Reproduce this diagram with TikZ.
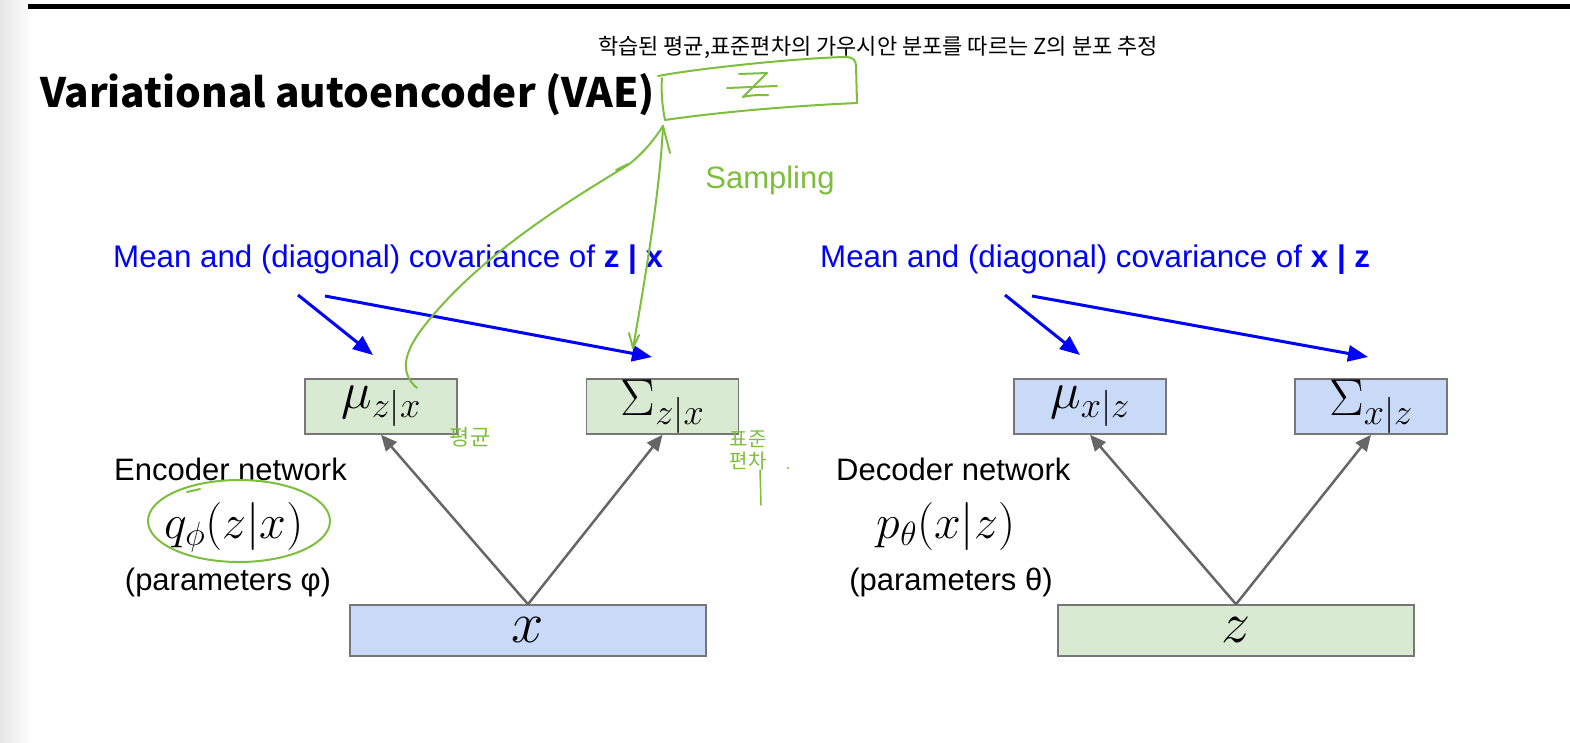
\RequirePackage{fix-cm}
\documentclass[tikz,border=0pt]{standalone}
\usepackage{fontspec}
\newfontfamily\arial{Liberation Sans}
\newfontfamily\kr{Noto Sans CJK KR}
\usetikzlibrary{arrows.meta,shapes.geometric}
\definecolor{boxgreen}{HTML}{D9EAD3}
\definecolor{boxblue}{HTML}{C9DAF8}
\definecolor{boxline}{HTML}{777777}
\definecolor{arrgray}{HTML}{666666}
\definecolor{vblue}{HTML}{0000FF}
\definecolor{hand}{RGB}{125,190,60}
\tikzset{
  box/.style={draw=boxline, line width=1.5pt, minimum width=152pt, minimum height=55pt, inner sep=0pt, font=\fontsize{52}{56}\selectfont},
  gbox/.style={box, fill=boxgreen},
  bbox/.style={box, fill=boxblue},
  bigbox/.style={minimum width=356pt, minimum height=51pt, font=\fontsize{58}{60}\selectfont},
  grayarr/.style={draw=arrgray, line width=2.5pt, -{Triangle[length=16pt,width=14pt]}},
  bluearr/.style={draw=vblue, line width=3pt, -{Triangle[length=20pt,width=16pt]}},
  handline/.style={draw=hand, line width=2pt, line cap=round, line join=round},
  bluetxt/.style={text=vblue, font=\arial\fontsize{31.3}{36}\selectfont, inner sep=0pt},
  blk/.style={text=black, font=\arial\fontsize{31}{36}\selectfont, inner sep=0pt},
  mathtxt/.style={font=\fontsize{48}{52}\selectfont, inner sep=0pt},
}
\begin{document}
\begin{tikzpicture}[x=1pt,y=-1pt]
\useasboundingbox (0,0) rectangle (1570,742);
\shade[left color=black!10, right color=white] (0,0) rectangle (32,742);
\draw[line width=5pt] (28,6) -- (1570,6);

% title and caption
\node[anchor=base west, font=\kr\bfseries\fontsize{40.5}{48}\selectfont, inner sep=0pt] (title) at (40,107) {Variational autoencoder (VAE)};
\node[font=\kr\fontsize{22}{26}\selectfont, inner sep=0pt] (cap) at (878,47) {학습된 평균,표준편차의 가우시안 분포를 따르는 Z의 분포 추정};

% boxes
\node[gbox] (mu1) at (381,406.5) {$\mu_{z|x}$};
\node[gbox] (sig1) at (662.5,406.5) {$\Sigma_{z|x}$};
\node[bbox] (mu2) at (1090,406.5) {$\mu_{x|z}$};
\node[bbox] (sig2) at (1371,406.5) {$\Sigma_{x|z}$};
\node[bbox, bigbox] (xin) at (528,630.5) {$x$};
\node[gbox, bigbox] (zin) at (1236,630.5) {$z$};

\draw[grayarr] (xin.north) -- (mu1.south);
\draw[grayarr] (xin.north) -- (sig1.south);
\draw[grayarr] (zin.north) -- (mu2.south);
\draw[grayarr] (zin.north) -- (sig2.south);

% blue labels
\node[bluetxt, anchor=base west] (lab1) at (113,267) {Mean and (diagonal) covariance of \textbf{z | x}};
\node[bluetxt, anchor=base west] (lab2) at (820,267) {Mean and (diagonal) covariance of \textbf{x | z}};
\coordinate (a1s) at (298,295); \coordinate (a1e) at (373,355);
\coordinate (a2s) at (325,296); \coordinate (a2e) at (652,357);
\coordinate (b1s) at (1005,295); \coordinate (b1e) at (1080,355);
\coordinate (b2s) at (1032,296); \coordinate (b2e) at (1368,357);
\draw[bluearr] (a1s) -- (a1e);
\draw[bluearr] (a2s) -- (a2e);
\draw[bluearr] (b1s) -- (b1e);
\draw[bluearr] (b2s) -- (b2e);

% network labels
\node[blk, anchor=base west] (enc) at (114,480) {Encoder network};
\node[mathtxt, anchor=base] (q) at (234,538) {$q_\phi(z|x)$};
\node[blk, anchor=base] (penc) at (228,590) {(parameters φ)};
\node[blk, anchor=base west] (dec) at (836,480) {Decoder network};
\node[mathtxt, anchor=base] (p) at (946,538) {$p_\theta(x|z)$};
\node[blk, anchor=base] (pdec) at (951,590) {(parameters θ)};

% handwritten annotations
\draw[handline] (658,76) .. controls (700,68) and (800,58) .. (845,57) .. controls (853,57) and (856,60) .. (856,66) -- (857,103) .. controls (790,106) and (720,112) .. (665,120) .. controls (662,105) and (661,90) .. (662,78);
\draw[handline] (739,74) -- (767,73) -- (743,97) .. controls (750,95) and (760,95) .. (768,95);
\draw[handline] (727,88) -- (777,86);
\coordinate (apex) at (663,126);
\draw[handline] (417,388) .. controls (398,372) and (405,350) .. (425,325) .. controls (480,255) and (570,200) .. (628,165) .. controls (645,152) and (655,138) .. (apex);
\draw[handline] (628,164) -- (616,170);
\draw[handline] (apex) -- (670,153);
\draw[handline] (apex) .. controls (660,190) and (645,280) .. (633,348);
\draw[handline] (629,333) -- (633,348) -- (639,335);
\node[text=hand, font=\arial\fontsize{31}{36}\selectfont, inner sep=0pt] (samp) at (770,180) {Sampling};
\draw[handline] (239,521) ellipse [x radius=91pt, y radius=41pt];
\draw[handline] (187,492) -- (200,489);
\node[text=hand, font=\kr\fontsize{22}{24}\selectfont, inner sep=0pt] (n1) at (470,437) {평균};
\node[text=hand, font=\kr\fontsize{20}{22}\selectfont, inner sep=0pt, align=center] (n2) at (748,450) {표준\\편차};
\draw[handline, line width=1.5pt] (760,470) -- (761,505);
\fill[hand] (788,468) circle (1.2pt);
\end{tikzpicture}
\end{document}
